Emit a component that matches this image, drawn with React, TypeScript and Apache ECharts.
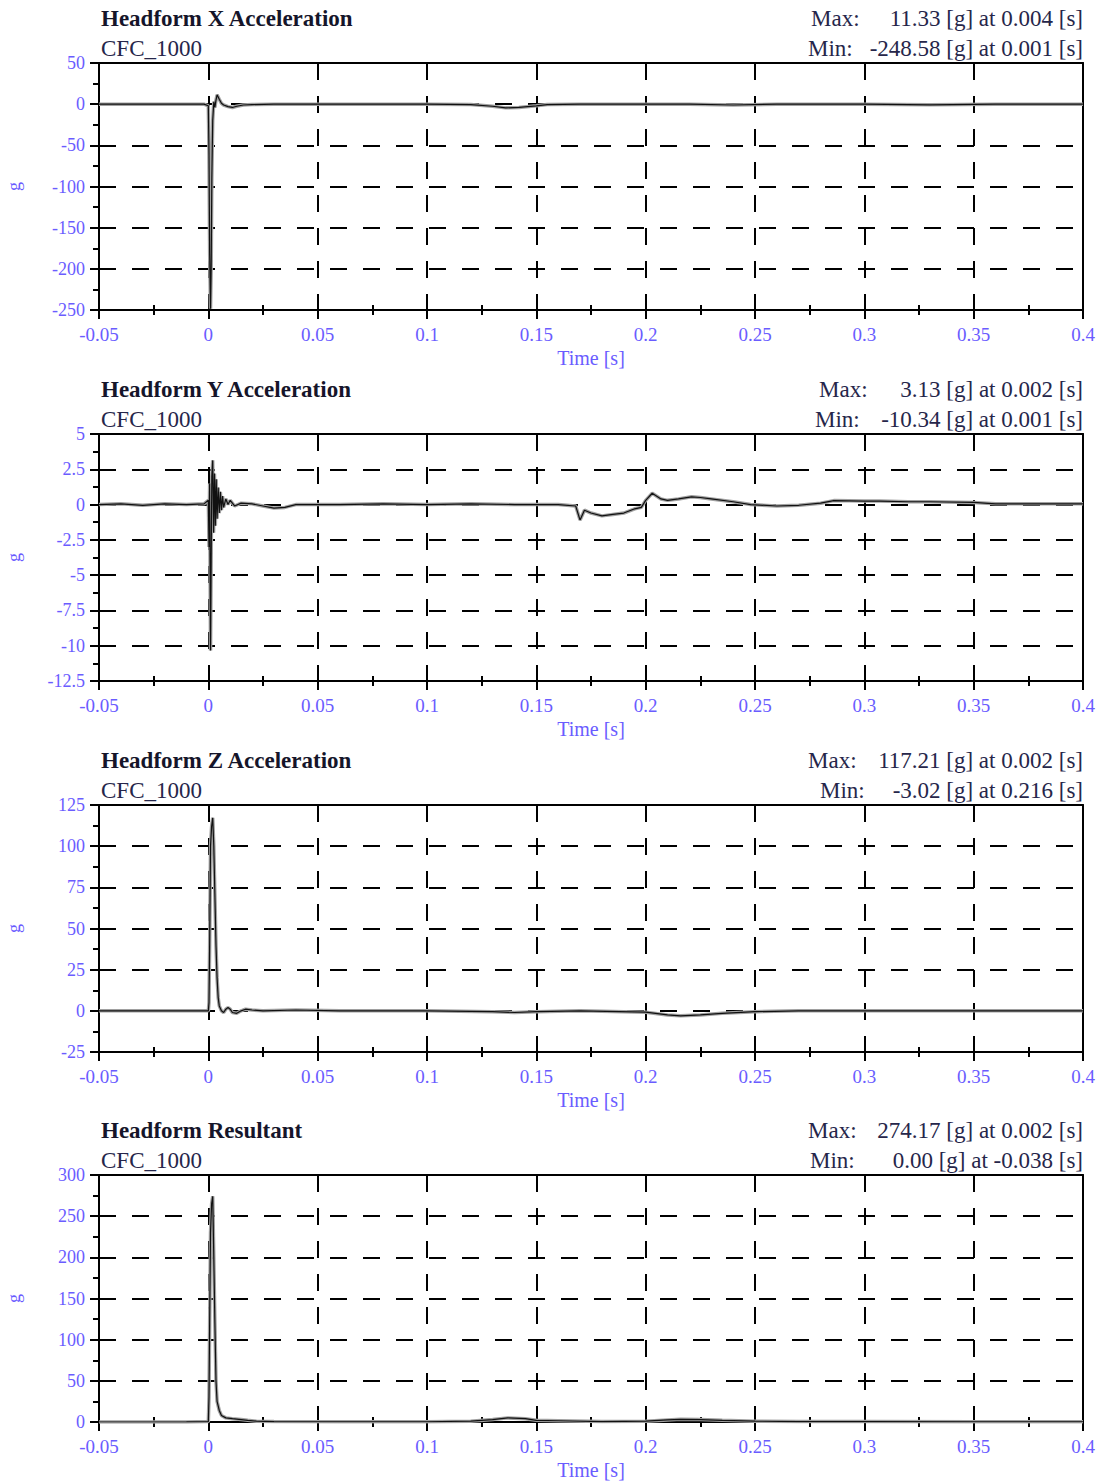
import React, { useEffect, useRef } from "react";
import * as echarts from "echarts";

// ---------- data ----------
const TITLES = ["Headform X Acceleration", "Headform Y Acceleration", "Headform Z Acceleration", "Headform Resultant"];
const FILTER = "CFC_1000";
const MAX_TEXT = ["11.33 [g] at 0.004 [s]", "3.13 [g] at 0.002 [s]", "117.21 [g] at 0.002 [s]", "274.17 [g] at 0.002 [s]"];
const MIN_TEXT = ["-248.58 [g] at 0.001 [s]", "-10.34 [g] at 0.001 [s]", "-3.02 [g] at 0.216 [s]", "0.00 [g] at -0.038 [s]"];
const Y_MIN = [-250, -12.5, -25, 0];
const Y_MAX = [50, 5, 125, 300];
const Y_INT = [50, 2.5, 25, 50];
const X_MIN = -0.05;
const X_MAX = 0.4;
const X_INT = 0.05;

const T_X = [-0.05, -0.03, -0.01, -0.002, 0, 0.0003, 0.0006, 0.001, 0.0013, 0.0016, 0.002, 0.0025, 0.003, 0.0035, 0.004, 0.005, 0.006, 0.007, 0.009, 0.011, 0.013, 0.016, 0.02, 0.03, 0.06, 0.1, 0.12, 0.13, 0.136, 0.142, 0.15, 0.155, 0.17, 0.22, 0.24, 0.26, 0.3, 0.33, 0.36, 0.4];
const V_X = [0, 0, 0, 0, -2, -60, -180, -248.58, -200, -90, -20, 3, -4, 5, 11.33, 6, 1, -1, -3, -4, -2.5, -1, -0.5, 0, 0, 0, -0.5, -2.5, -4.5, -4, -2, -0.5, 0, 0, -1, 0, 0, -0.8, 0, 0];

const T_Y = [-0.05, -0.04, -0.03, -0.02, -0.01, -0.002, 0, 0.0003, 0.0006, 0.001, 0.0013, 0.0016, 0.002, 0.0024, 0.0028, 0.0032, 0.0036, 0.004, 0.0045, 0.005, 0.0055, 0.006, 0.0065, 0.007, 0.008, 0.009, 0.01, 0.012, 0.015, 0.02, 0.025, 0.03, 0.035, 0.04, 0.06, 0.08, 0.1, 0.12, 0.14, 0.16, 0.168, 0.17, 0.172, 0.175, 0.18, 0.185, 0.19, 0.195, 0.198, 0.2, 0.203, 0.207, 0.21, 0.215, 0.221, 0.225, 0.23, 0.24, 0.248, 0.26, 0.27, 0.28, 0.286, 0.3, 0.307, 0.32, 0.33, 0.35, 0.36, 0.38, 0.4];
const V_Y = [0, 0.05, -0.05, 0.05, 0, 0.05, 0.3, -3, 1.5, -10.34, -4, 2, 3.13, -2, 2.2, -1.5, 1.8, -1, 1.2, -0.6, 0.9, -0.4, 0.6, -0.2, 0.4, 0, 0.3, -0.1, 0.1, 0.05, -0.1, -0.25, -0.2, 0, 0, 0.05, 0, 0.05, 0, 0, -0.1, -1.1, -0.4, -0.6, -0.8, -0.7, -0.6, -0.3, -0.2, 0.3, 0.8, 0.4, 0.3, 0.4, 0.55, 0.5, 0.4, 0.2, 0, -0.1, -0.05, 0.1, 0.28, 0.25, 0.25, 0.2, 0.2, 0.15, 0.05, 0.05, 0.05];

const T_Z = [-0.05, -0.01, 0, 0.0003, 0.0006, 0.001, 0.0015, 0.002, 0.0025, 0.003, 0.0035, 0.004, 0.0045, 0.005, 0.006, 0.007, 0.008, 0.009, 0.01, 0.011, 0.013, 0.015, 0.017, 0.02, 0.025, 0.04, 0.06, 0.1, 0.13, 0.14, 0.15, 0.17, 0.2, 0.21, 0.216, 0.225, 0.235, 0.25, 0.27, 0.3, 0.4];
const V_Z = [0, 0, 0, 5, 40, 100, 112, 117.21, 100, 70, 40, 20, 8, 3, 0, -1, 1, 2, 1, -1, -1.5, 0, 1, 0.5, 0, 0.5, 0, 0, -0.5, -1, -0.5, 0, -0.8, -2.5, -3.02, -2.5, -1.5, -0.5, 0, 0, 0];

const T_R = [-0.05, -0.038, -0.01, 0, 0.0003, 0.0006, 0.001, 0.0015, 0.002, 0.0025, 0.003, 0.0035, 0.004, 0.005, 0.006, 0.008, 0.011, 0.015, 0.018, 0.022, 0.03, 0.06, 0.1, 0.12, 0.13, 0.137, 0.145, 0.15, 0.16, 0.18, 0.2, 0.21, 0.216, 0.225, 0.235, 0.25, 0.27, 0.3, 0.35, 0.4];
const V_R = [0, 0, 0.1, 0.5, 30, 120, 230, 265, 274.17, 200, 120, 50, 25, 14, 8, 5, 4, 3, 2, 1, 0.5, 0.3, 0.3, 1, 3, 5, 4, 2, 1.5, 0.5, 1, 2.5, 3.2, 3, 2, 1, 0.5, 0.5, 0.3, 0.3];

const TIMES = [T_X, T_Y, T_Z, T_R];
const VALUES = [V_X, V_Y, V_Z, V_R];

// ---------- layout / style ----------
const GRID_TOPS = [63, 434, 805, 1175];
const GRID_LEFT = 99;
const GRID_W = 984;
const GRID_H = 247;
const MAX_LABEL_X = [811, 819, 808, 808];
const MIN_LABEL_X = [808, 815, 820, 810];
const LABEL_COLOR = "#6a5cff";
const TEXT_COLOR = "#26264a";
const FONT = "'Liberation Serif', 'DejaVu Serif', serif";

function buildOption() {
  const grids: any[] = [];
  const xAxes: any[] = [];
  const yAxes: any[] = [];
  const series: any[] = [];
  const graphics: any[] = [];
  const black = { color: "#000", width: 2 };
  const dashed = { color: "#000", width: 2, type: [17, 16] };

  for (let i = 0; i < 4; i++) {
    const top = GRID_TOPS[i];
    grids.push({ left: GRID_LEFT, top, width: GRID_W, height: GRID_H, containLabel: false, outerBoundsMode: "none" });
    const xb = { type: "value", gridIndex: i, min: X_MIN, max: X_MAX, interval: X_INT };
    const yb = { type: "value", gridIndex: i, min: Y_MIN[i], max: Y_MAX[i], interval: Y_INT[i] };

    xAxes.push({
      ...xb,
      position: "bottom",
      axisLine: { show: true, onZero: false, lineStyle: black },
      axisTick: { show: true, inside: false, length: 9, lineStyle: black },
      minorTick: { show: true, splitNumber: 2, length: 5, lineStyle: black },
      axisLabel: { show: true, color: LABEL_COLOR, fontFamily: FONT, fontSize: 19, margin: 15 },
      name: "Time [s]",
      nameLocation: "middle",
      nameGap: 38,
      nameTextStyle: { color: LABEL_COLOR, fontFamily: FONT, fontSize: 20 },
      splitLine: { show: true, lineStyle: dashed },
    });
    xAxes.push({
      ...xb,
      position: "bottom",
      axisLine: { show: false, onZero: false },
      axisTick: { show: true, inside: true, length: 12, lineStyle: black },
      minorTick: { show: true, splitNumber: 2, length: 5, lineStyle: black },
      axisLabel: { show: false },
      splitLine: { show: false },
    });
    xAxes.push({
      ...xb,
      position: "top",
      axisLine: { show: true, onZero: false, lineStyle: black },
      axisTick: { show: true, inside: true, length: 16, lineStyle: black },
      axisLabel: { show: false },
      splitLine: { show: false },
    });

    yAxes.push({
      ...yb,
      position: "left",
      axisLine: { show: true, onZero: false, lineStyle: black },
      axisTick: { show: true, inside: false, length: 9, lineStyle: black },
      minorTick: { show: true, splitNumber: 2, length: 6, lineStyle: black },
      axisLabel: { show: true, color: LABEL_COLOR, fontFamily: FONT, fontSize: 18, margin: 14 },
      name: "g",
      nameLocation: "middle",
      nameRotate: 90,
      nameGap: 76,
      nameTextStyle: { color: LABEL_COLOR, fontFamily: FONT, fontSize: 18 },
      splitLine: { show: true, lineStyle: dashed },
    });
    yAxes.push({
      ...yb,
      position: "left",
      axisLine: { show: false, onZero: false },
      axisTick: { show: false },
      minorTick: { show: true, splitNumber: 2, length: 6, lineStyle: black },
      axisLabel: { show: false },
      splitLine: { show: false },
    });
    yAxes.push({
      ...yb,
      position: "right",
      axisLine: { show: true, onZero: false, lineStyle: black },
      axisTick: { show: false },
      axisLabel: { show: false },
      splitLine: { show: false },
    });

    const data = TIMES[i].map((t, k) => [t, VALUES[i][k]]);
    series.push({
      type: "line",
      xAxisIndex: i * 3,
      yAxisIndex: i * 3,
      data,
      symbol: "none",
      silent: true,
      z: 3,
      lineStyle: { color: "#a0a0a0", width: 3.5 },
    });
    series.push({
      type: "line",
      xAxisIndex: i * 3,
      yAxisIndex: i * 3,
      data,
      symbol: "none",
      silent: true,
      z: 4,
      lineStyle: { color: "#111", width: 1.2 },
    });

    const tText = top - 45;
    const sText = top - 15;
    const f = `23px ${FONT}`;
    graphics.push({
      type: "text",
      x: 101,
      y: tText,
      style: { text: TITLES[i], fill: "#15152a", font: `bold 23px ${FONT}`, textAlign: "left", textVerticalAlign: "middle" },
    });
    graphics.push({
      type: "text",
      x: 101,
      y: sText,
      style: { text: FILTER, fill: TEXT_COLOR, font: f, textAlign: "left", textVerticalAlign: "middle" },
    });
    graphics.push({
      type: "text",
      x: MAX_LABEL_X[i],
      y: tText,
      style: { text: "Max:", fill: TEXT_COLOR, font: f, textAlign: "left", textVerticalAlign: "middle" },
    });
    graphics.push({
      type: "text",
      x: 1083,
      y: tText,
      style: { text: MAX_TEXT[i], fill: TEXT_COLOR, font: f, textAlign: "right", textVerticalAlign: "middle" },
    });
    graphics.push({
      type: "text",
      x: MIN_LABEL_X[i],
      y: sText,
      style: { text: "Min:", fill: TEXT_COLOR, font: f, textAlign: "left", textVerticalAlign: "middle" },
    });
    graphics.push({
      type: "text",
      x: 1083,
      y: sText,
      style: { text: MIN_TEXT[i], fill: TEXT_COLOR, font: f, textAlign: "right", textVerticalAlign: "middle" },
    });
  }

  return {
    animation: false,
    backgroundColor: "#fff",
    grid: grids,
    xAxis: xAxes,
    yAxis: yAxes,
    series,
    graphic: graphics,
  };
}

export default function App() {
  const ref = useRef<HTMLDivElement>(null);
  useEffect(() => {
    if (!ref.current) return;
    const chart = echarts.init(ref.current, undefined, { renderer: "svg" });
    chart.setOption(buildOption() as any);
    return () => chart.dispose();
  }, []);
  return (
    <div
      ref={ref}
      style={{ position: "absolute", left: 0, top: 0, width: 1101, height: 1481, background: "#fff" }}
    />
  );
}
